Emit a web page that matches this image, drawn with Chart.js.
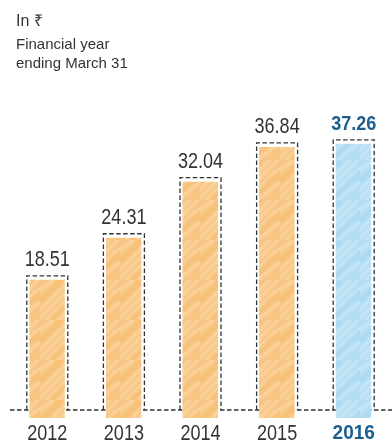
<!DOCTYPE html>
<html>
<head>
<meta charset="utf-8">
<script src="https://cdn.jsdelivr.net/npm/chart.js@4"></script>
<style>
html,body{margin:0;padding:0;background:#fff;}
#wrap{position:relative;width:392px;height:443px;}
</style>
</head>
<body>
<div id="wrap"><canvas id="c" width="392" height="443"></canvas></div>
<script>
const categories = ['2012', '2013', '2014', '2015', '2016'];
const values = [18.51, 24.31, 32.04, 36.84, 37.26];
const valueLabels = ['18.51', '24.31', '32.04', '36.84', '37.26'];
const highlightIndex = 4;
const titleLines = ['In \u20B9', 'Financial year', 'ending March 31'];

const FONT = '"Liberation Sans", Arial, sans-serif';

function makeTexture(base, light, dark) {
  const c = document.createElement('canvas');
  c.width = 40; c.height = 40;
  const g = c.getContext('2d');
  g.fillStyle = base; g.fillRect(0, 0, 40, 40);
  g.globalAlpha = 0.35;
  g.strokeStyle = light; g.lineWidth = 4;
  const lines = [[0,10,14,0],[6,40,40,8],[0,30,30,0],[18,40,40,22],[0,38,38,0]];
  lines.forEach(l => { g.beginPath(); g.moveTo(l[0], l[1]); g.lineTo(l[2], l[3]); g.stroke(); });
  g.strokeStyle = dark; g.lineWidth = 5; g.globalAlpha = 0.2;
  [[0,22,22,0],[10,40,40,12]].forEach(l => { g.beginPath(); g.moveTo(l[0], l[1]); g.lineTo(l[2], l[3]); g.stroke(); });
  g.globalAlpha = 1;
  return g.createPattern(c, 'repeat');
}

const ctx0 = document.getElementById('c').getContext('2d');
const orangeTex = makeTexture('#F8C682', '#FDE6C2', '#F3AE52');
const blueTex = makeTexture('#B4DEF3', '#E0F1FA', '#8FCDEE');

function narrowText(ctx, text, x, y, font, sx, color) {
  ctx.save();
  ctx.translate(x, y);
  ctx.scale(sx, 1);
  ctx.font = font;
  ctx.fillStyle = color;
  ctx.textAlign = 'center';
  ctx.textBaseline = 'alphabetic';
  ctx.fillText(text, 0, 0);
  ctx.restore();
}

const boxPlugin = {
  id: 'boxPlugin',
  beforeDatasetsDraw(chart) {
    const ctx = chart.ctx;
    const meta = chart.getDatasetMeta(0);
    const yBase = chart.scales.y.getPixelForValue(0);
    ctx.save();
    ctx.strokeStyle = '#333';
    ctx.lineWidth = 1.3;
    ctx.setLineDash([4.5, 2.5]);
    ctx.beginPath();
    ctx.moveTo(10, yBase);
    ctx.lineTo(chart.width, yBase);
    ctx.stroke();
    ctx.restore();
    meta.data.forEach((bar, i) => {
      const p = bar.getProps(['x', 'y', 'width', 'base'], true);
      ctx.save();
      ctx.fillStyle = i === highlightIndex ? blueTex : orangeTex;
      const l = p.x - p.width / 2 + 2.5, r = p.x + p.width / 2 - 3;
      ctx.beginPath();
      ctx.rect(l, p.y + 4, r - l, p.base - p.y + 4);
      ctx.fill();
      ctx.restore();
    });
  },
  afterDatasetsDraw(chart) {
    const ctx = chart.ctx;
    const meta = chart.getDatasetMeta(0);
    meta.data.forEach((bar, i) => {
      const p = bar.getProps(['x', 'y', 'width', 'base'], true);
      const l = p.x - p.width / 2, r = p.x + p.width / 2;
      ctx.save();
      ctx.strokeStyle = '#333';
      ctx.lineWidth = 1.3;
      ctx.setLineDash([4.5, 2.5]);
      ctx.beginPath();
      ctx.moveTo(l, p.base);
      ctx.lineTo(l, p.y);
      ctx.lineTo(r, p.y);
      ctx.lineTo(r, p.base);
      ctx.stroke();
      ctx.restore();
      const hi = i === highlightIndex;
      if (hi) {
        narrowText(ctx, valueLabels[i], p.x, p.y - 10, 'bold 20px ' + FONT, 0.9, '#1C5E8E');
        narrowText(ctx, categories[i], p.x, 439, 'bold 20px ' + FONT, 0.95, '#1C5E8E');
      } else {
        narrowText(ctx, valueLabels[i], p.x, p.y - 10, '22px ' + FONT, 0.82, '#333');
        narrowText(ctx, categories[i], p.x, 440, '22px ' + FONT, 0.82, '#333');
      }
    });
    ctx.save();
    ctx.fillStyle = '#333';
    ctx.textAlign = 'left';
    ctx.textBaseline = 'alphabetic';
    ctx.font = '16px ' + FONT;
    ctx.fillText(titleLines[0], 16, 26);
    ctx.font = '15px ' + FONT;
    ctx.fillText(titleLines[1], 16, 49);
    ctx.fillText(titleLines[2], 16, 68);
    ctx.restore();
  }
};

new Chart(document.getElementById('c'), {
  type: 'bar',
  data: {
    labels: categories,
    datasets: [{
      data: values,
      backgroundColor: 'rgba(0,0,0,0)',
      borderWidth: 0,
      categoryPercentage: 1,
      barPercentage: 0.535
    }]
  },
  options: {
    responsive: false,
    animation: false,
    devicePixelRatio: 1,
    layout: { padding: { left: 9, right: 0, top: 120, bottom: 33 } },
    plugins: { legend: { display: false }, tooltip: { enabled: false } },
    scales: {
      x: { display: false },
      y: { display: false, min: 0, max: 40 }
    }
  },
  plugins: [boxPlugin]
});
</script>
</body>
</html>
